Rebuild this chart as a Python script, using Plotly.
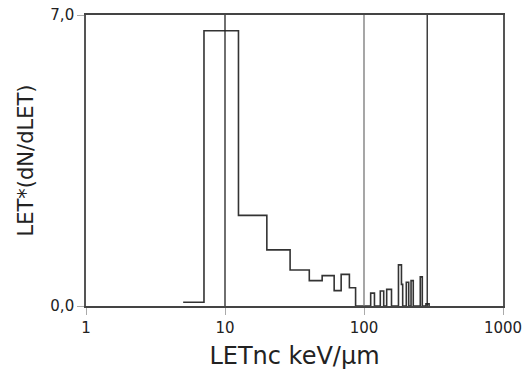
import plotly.graph_objects as go

# Main histogram (contiguous bins): edges and values
main_edges = [5.0, 7.06, 12.5, 20.0, 29.4, 40.4, 50.0, 61.0, 68.5, 78.5, 87.0]
main_values = [0.09, 6.62, 2.18, 1.35, 0.865, 0.61, 0.73, 0.37, 0.76, 0.44]

# High-LET spikes: left edge, right edge, height
spike_left = [111.7, 131.0, 145.6, 177.0, 186.0, 201.5, 218.0, 254.0, 279.0]
spike_right = [118.9, 138.6, 157.7, 186.0, 189.8, 209.7, 226.2, 262.7, 294.0]
spike_values = [0.31, 0.36, 0.40, 0.99, 0.52, 0.57, 0.61, 0.70, 0.05]

# Vertical reference lines
ref_lines = [10, 100, 285]
ref_colors = ["#222222", "#777777", "#222222"]

# Axis ticks
x_ticks = [1, 10, 100, 1000]
x_ticktext = ["1", "10", "100", "1000"]
y_ticks = [0, 7]
y_ticktext = ["0,0", "7,0"]

# Build step-line coordinates
xs, ys = [main_edges[0]], [main_values[0]]
for i, v in enumerate(main_values):
    if i > 0:
        xs.append(main_edges[i]); ys.append(v)
    xs.append(main_edges[i + 1]); ys.append(v)
xs.append(main_edges[-1]); ys.append(0)

prev_right = main_edges[-1]
for l, r, v in zip(spike_left, spike_right, spike_values):
    if abs(l - prev_right) > 1e-9:
        xs.append(prev_right); ys.append(0)
        xs.append(l); ys.append(0)
    xs.append(l); ys.append(v)
    xs.append(r); ys.append(v)
    prev_right = r
xs.append(prev_right); ys.append(0)

fig = go.Figure()
fig.add_trace(go.Scatter(x=xs, y=ys, mode="lines",
                         line=dict(color="#333333", width=1.6),
                         showlegend=False, hoverinfo="skip"))

for xv, c in zip(ref_lines, ref_colors):
    fig.add_vline(x=xv, line=dict(color=c, width=1.3), layer="above")

font_family = "DejaVu Sans, Verdana, sans-serif"
fig.update_layout(
    width=527, height=370,
    margin=dict(l=86, r=24, t=15, b=64),
    paper_bgcolor="white", plot_bgcolor="white",
    font=dict(family=font_family, color="#222222"),
    xaxis=dict(type="log", range=[0, 3], tickvals=x_ticks, ticktext=x_ticktext,
               automargin=False,
               showgrid=False, zeroline=False, showline=True, mirror=True,
               linecolor="#444444", linewidth=1.6, ticks="outside", ticklen=7,
               tickcolor="#aaaaaa", tickfont=dict(size=15),
               title=dict(text="LETnc keV/µm", font=dict(size=24), standoff=21)),
    yaxis=dict(range=[0, 7], tickvals=y_ticks, ticktext=y_ticktext,
               automargin=False,
               showgrid=False, zeroline=False, showline=True, mirror=True,
               linecolor="#555555", linewidth=1.6, ticks="outside", ticklen=7,
               tickcolor="#aaaaaa", tickfont=dict(size=15),
               title=dict(text="LET*(dN/dLET)", font=dict(size=21), standoff=11)),
)

fig.write_html("out.html",
               config={"displayModeBar": False},
               post_script="document.body.style.margin='0';document.body.style.overflow='hidden';")
